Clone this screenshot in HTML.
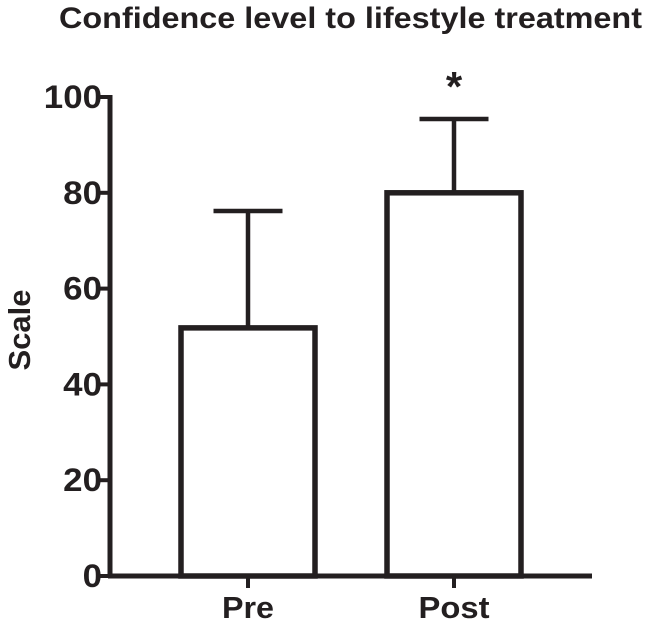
<!DOCTYPE html>
<html><head><meta charset="utf-8"><style>
body{margin:0;background:#fff;}
svg{display:block;font-family:"Liberation Sans",Arial,sans-serif;font-weight:bold;fill:#231f20;}
</style></head><body>
<svg id="chart" width="645" height="624" viewBox="0 0 645 624">
<text x="59" y="28" font-size="30" textLength="583" lengthAdjust="spacingAndGlyphs">Confidence level to lifestyle treatment</text>
<text transform="translate(30,330) rotate(-90)" text-anchor="middle" font-size="31" textLength="81" lengthAdjust="spacingAndGlyphs">Scale</text>
<g id="axes"></g>
<g id="bars"></g>
</svg>
<script>
const categories = ["Pre", "Post"];
const means = [51.8, 80.0];
const errors = [24.4, 15.4];
const yTicks = [0, 20, 40, 60, 80, 100];
const sigMarks = ["", "*"];

const NS = "http://www.w3.org/2000/svg";
const y0 = 576, y100 = 97, axX = 110;
const y = v => y0 - (v / 100) * (y0 - y100);
const centers = [248, 454];
const barW = 134, capW = 69;
function mk(tag, attrs, parent) {
  const e = document.createElementNS(NS, tag);
  for (const k in attrs) e.setAttribute(k, attrs[k]);
  parent.appendChild(e);
  return e;
}
const axes = document.getElementById("axes");
const bars = document.getElementById("bars");

let el = mk("line", {x1: axX, y1: y(100) - 2, x2: axX, y2: y0 + 2, stroke: "#231f20", "stroke-width": 5}, axes);


el = mk("line", {x1: axX - 2, y1: y0, x2: 592, y2: y0, stroke: "#231f20", "stroke-width": 5}, axes);



yTicks.forEach(t => {
  const tk = mk("line", {x1: axX - 11, y1: y(t), x2: axX, y2: y(t), stroke: "#231f20", "stroke-width": 4}, axes);
  
  
  const s = String(t);
  const lb = mk("text", {x: 102, y: y(t) + 11, "text-anchor": "end", "font-size": 32, textLength: s.length * 19.4, lengthAdjust: "spacingAndGlyphs"}, axes);
  lb.textContent = s;
  
  
});

categories.forEach((c, i) => {
  const cx = centers[i];
  const top = y(means[i]);
  const eTop = y(means[i] + errors[i]);
  const eb = mk("line", {x1: cx, y1: top, x2: cx, y2: eTop, stroke: "#231f20", "stroke-width": 4.5}, bars);
  
  
  const cap = mk("line", {x1: cx - capW / 2, y1: eTop, x2: cx + capW / 2, y2: eTop, stroke: "#231f20", "stroke-width": 4.5}, bars);
  
  
  const r = mk("rect", {x: cx - barW / 2, y: top, width: barW, height: y0 - top, fill: "#fff", stroke: "#231f20", "stroke-width": 5.5}, bars);
  
  
  const tk = mk("line", {x1: cx, y1: y0, x2: cx, y2: y0 + 12, stroke: "#231f20", "stroke-width": 4}, bars);
  
  
  const lb = mk("text", {x: cx, y: 618, "text-anchor": "middle", "font-size": 31, textLength: c.length === 3 ? 52 : 71, lengthAdjust: "spacingAndGlyphs"}, bars);
  lb.textContent = c;
  
  
  if (sigMarks[i]) {
    const s = mk("text", {x: cx, y: 101, "text-anchor": "middle", "font-size": 42}, bars);
    s.textContent = sigMarks[i];
    
    
  }
});
</script>
</body></html>
